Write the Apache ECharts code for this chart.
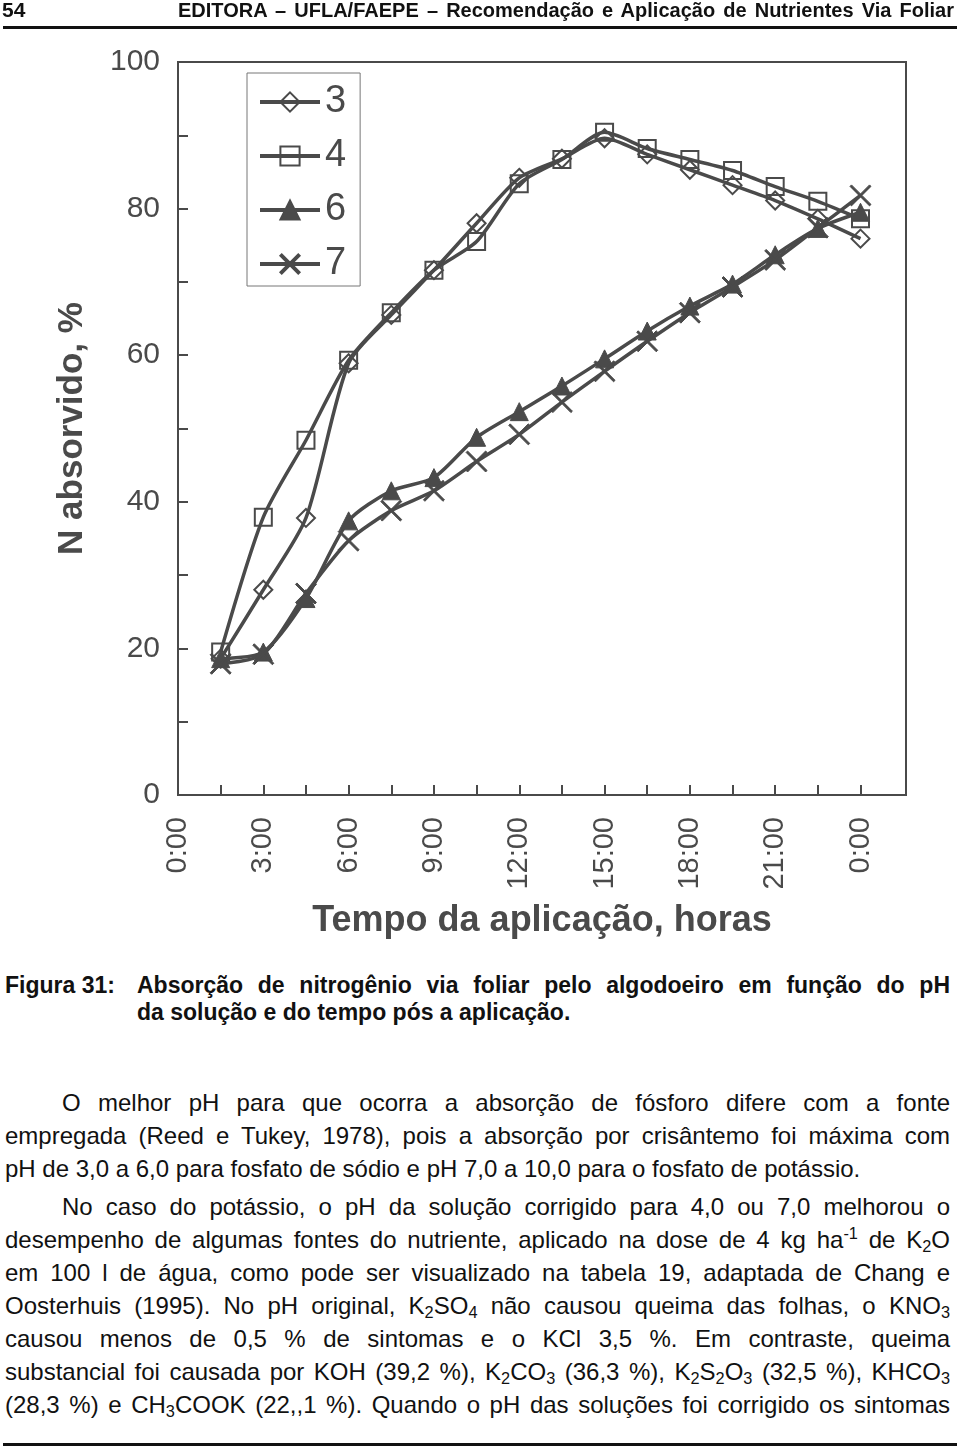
<!DOCTYPE html>
<html>
<head>
<meta charset="utf-8">
<script src="https://cdn.jsdelivr.net/npm/echarts@6/dist/echarts.min.js"></script>
<style>
  html,body{margin:0;padding:0;background:#fff;}
  #page{position:relative;width:960px;height:1448px;overflow:hidden;font-family:'Liberation Sans',Arial,sans-serif;color:#111;}
  #chart{position:absolute;left:0;top:0;width:960px;height:960px;}
  .abs{position:absolute;white-space:nowrap;}
  .line{position:absolute;left:5px;width:945px;font-size:24px;line-height:26px;height:26px;text-align:justify;text-align-last:justify;white-space:nowrap;}
  .line.ind{left:62px;width:888px;}
  .line.last{text-align:left;text-align-last:left;}
  sub,sup{font-size:0.68em;line-height:0;}
  sub{vertical-align:-0.25em;}
  sup{vertical-align:0.55em;}
  .rule{position:absolute;left:3px;width:954px;background:#111;}
</style>
</head>
<body>
<div id="page">
  <div id="chart"></div>

  <div class="abs" style="left:2px;top:-3px;font-weight:bold;font-size:21px;line-height:26px;">54</div>
  <div class="abs" style="left:178px;top:-3px;width:776px;font-weight:bold;font-size:20px;line-height:26px;text-align:justify;text-align-last:justify;">EDITORA – UFLA/FAEPE – Recomendação e Aplicação de Nutrientes Via Foliar</div>
  <div class="rule" style="top:26px;height:3px;"></div>

  <div class="abs" style="left:5px;top:972px;font-weight:bold;font-size:23px;line-height:26px;">Figura 31:</div>
  <div class="abs" style="left:137px;top:972px;width:813px;font-weight:bold;font-size:23px;line-height:26px;text-align:justify;text-align-last:justify;">Absorção de nitrogênio via foliar pelo algodoeiro em função do pH</div>
  <div class="abs" style="left:137px;top:999px;font-weight:bold;font-size:23px;line-height:26px;">da solução e do tempo pós a aplicação.</div>

  <div class="line ind" style="top:1090px;">O melhor pH para que ocorra a absorção de fósforo difere com a fonte</div>
  <div class="line" style="top:1123px;">empregada (Reed e Tukey, 1978), pois a absorção por crisântemo foi máxima com</div>
  <div class="line last" style="top:1156px;">pH de 3,0 a 6,0 para fosfato de sódio e pH 7,0 a 10,0 para o fosfato de potássio.</div>

  <div class="line ind" style="top:1194px;">No caso do potássio, o pH da solução corrigido para 4,0 ou 7,0 melhorou o</div>
  <div class="line" style="top:1227px;">desempenho de algumas fontes do nutriente, aplicado na dose de 4 kg ha<sup>-1</sup> de K<sub>2</sub>O</div>
  <div class="line" style="top:1260px;">em 100 l de água, como pode ser visualizado na tabela 19, adaptada de Chang e</div>
  <div class="line" style="top:1293px;">Oosterhuis (1995). No pH original, K<sub>2</sub>SO<sub>4</sub> não causou queima das folhas, o KNO<sub>3</sub></div>
  <div class="line" style="top:1326px;">causou menos de 0,5 % de sintomas e o KCl 3,5 %. Em contraste, queima</div>
  <div class="line" style="top:1359px;">substancial foi causada por KOH (39,2 %), K<sub>2</sub>CO<sub>3</sub> (36,3 %), K<sub>2</sub>S<sub>2</sub>O<sub>3</sub> (32,5 %), KHCO<sub>3</sub></div>
  <div class="line" style="top:1392px;">(28,3 %) e CH<sub>3</sub>COOK (22,,1 %). Quando o pH das soluções foi corrigido os sintomas</div>
  <div class="rule" style="top:1443px;height:3px;"></div>
</div>
<script>
// ---- data ----
var hours = [1.5, 3, 4.5, 6, 7.5, 9, 10.5, 12, 13.5, 15, 16.5, 18, 19.5, 21, 22.5, 24];
var seriesNames = ['3', '4', '6', '7'];
var ph3 = [18.6, 28.0, 37.8, 58.9, 65.5, 71.6, 78.0, 84.2, 86.8, 89.6, 87.4, 85.3, 83.2, 81.1, 78.6, 75.9];
var ph4 = [19.5, 37.9, 48.4, 59.3, 65.8, 71.6, 75.5, 83.4, 86.7, 90.4, 88.2, 86.7, 85.2, 83.0, 81.0, 78.6];
var ph6 = [18.6, 19.5, 26.8, 37.4, 41.5, 43.3, 48.8, 52.3, 55.8, 59.5, 63.3, 66.7, 69.7, 73.7, 77.3, 79.5];
var ph7 = [17.9, 19.2, 27.5, 34.7, 38.8, 41.5, 45.5, 49.2, 53.6, 57.8, 61.9, 65.8, 69.3, 73.0, 77.4, 81.8];
var xTickValues = [1.5, 3, 4.5, 6, 7.5, 9, 10.5, 12, 13.5, 15, 16.5, 18, 19.5, 21, 22.5, 24];
var xLabelValues = [0, 3, 6, 9, 12, 15, 18, 21, 24];
var xTickLabels = ['0:00', '3:00', '6:00', '9:00', '12:00', '15:00', '18:00', '21:00', '0:00'];
var yLabelValues = [0, 20, 40, 60, 80, 100];

var INK = '#4a4a4a';
var FONT = "'Liberation Sans', Arial, sans-serif";
var xSymbol = 'path://M0,1.4L1.4,0L10,8.6L18.6,0L20,1.4L11.4,10L20,18.6L18.6,20L10,11.4L1.4,20L0,18.6L8.6,10Z';

function pairs(vals) { return hours.map(function (h, i) { return [h, vals[i]]; }); }

function mkSeries(name, vals, symbol, size, filled) {
  return {
    name: name, type: 'line', data: pairs(vals), smooth: 0.25,
    symbol: symbol, symbolSize: size, showAllSymbol: true,
    lineStyle: { color: INK, width: 3.5 },
    itemStyle: filled ? { color: INK, borderColor: INK, borderWidth: 1 }
                      : { color: 'rgba(255,255,255,0)', borderColor: INK, borderWidth: 2 },
    emphasis: { disabled: true },
    z: 3
  };
}

var chart = echarts.init(document.getElementById('chart'), null, { renderer: 'canvas' });
chart.setOption({
  animation: false,
  backgroundColor: 'transparent',
  textStyle: { fontFamily: FONT },
  grid: { left: 178, top: 62, right: 54, bottom: 165, show: true, borderColor: INK, borderWidth: 2, backgroundColor: 'transparent' },
  legend: {
    orient: 'vertical', left: 247, top: 73,
    padding: [10, 14, 3, 11],
    borderColor: '#777', borderWidth: 1,
    itemWidth: 60, itemHeight: 24, itemGap: 16,
    lineStyle: { width: 4, color: INK },
    textStyle: { fontSize: 38, lineHeight: 38, color: INK, fontFamily: FONT },
    data: seriesNames
  },
  xAxis: {
    type: 'value', min: 0, max: 25.6,
    name: 'Tempo da aplicação, horas', nameLocation: 'middle', nameGap: 108,
    nameTextStyle: { fontSize: 36, fontWeight: 'bold', color: INK, fontFamily: FONT },
    axisLine: { show: true, lineStyle: { color: INK, width: 2 } },
    axisTick: { show: true, inside: true, length: 10, lineStyle: { color: INK, width: 2 }, customValues: xTickValues },
    axisLabel: {
      rotate: 90, fontSize: 29, color: INK, margin: 22, customValues: xLabelValues,
      formatter: function (v) { var i = xLabelValues.indexOf(v); return i >= 0 ? xTickLabels[i] : ''; }
    },
    splitLine: { show: false }
  },
  yAxis: {
    type: 'value', min: 0, max: 100, interval: 10,
    name: 'N absorvido, %', nameLocation: 'middle', nameGap: 88,
    nameTextStyle: { fontSize: 35, fontWeight: 'bold', color: INK, fontFamily: FONT },
    axisLine: { show: true, lineStyle: { color: INK, width: 2 } },
    axisTick: { show: true, inside: true, length: 10, lineStyle: { color: INK, width: 2 } },
    axisLabel: {
      fontSize: 30, color: INK, margin: 18, customValues: yLabelValues
    },
    splitLine: { show: false }
  },
  series: [
    mkSeries(seriesNames[0], ph3, 'diamond', 18, false),
    mkSeries(seriesNames[1], ph4, 'rect', 17, false),
    mkSeries(seriesNames[2], ph6, 'triangle', 18, true),
    mkSeries(seriesNames[3], ph7, xSymbol, 21, true)
  ]
});
</script>
</body>
</html>
